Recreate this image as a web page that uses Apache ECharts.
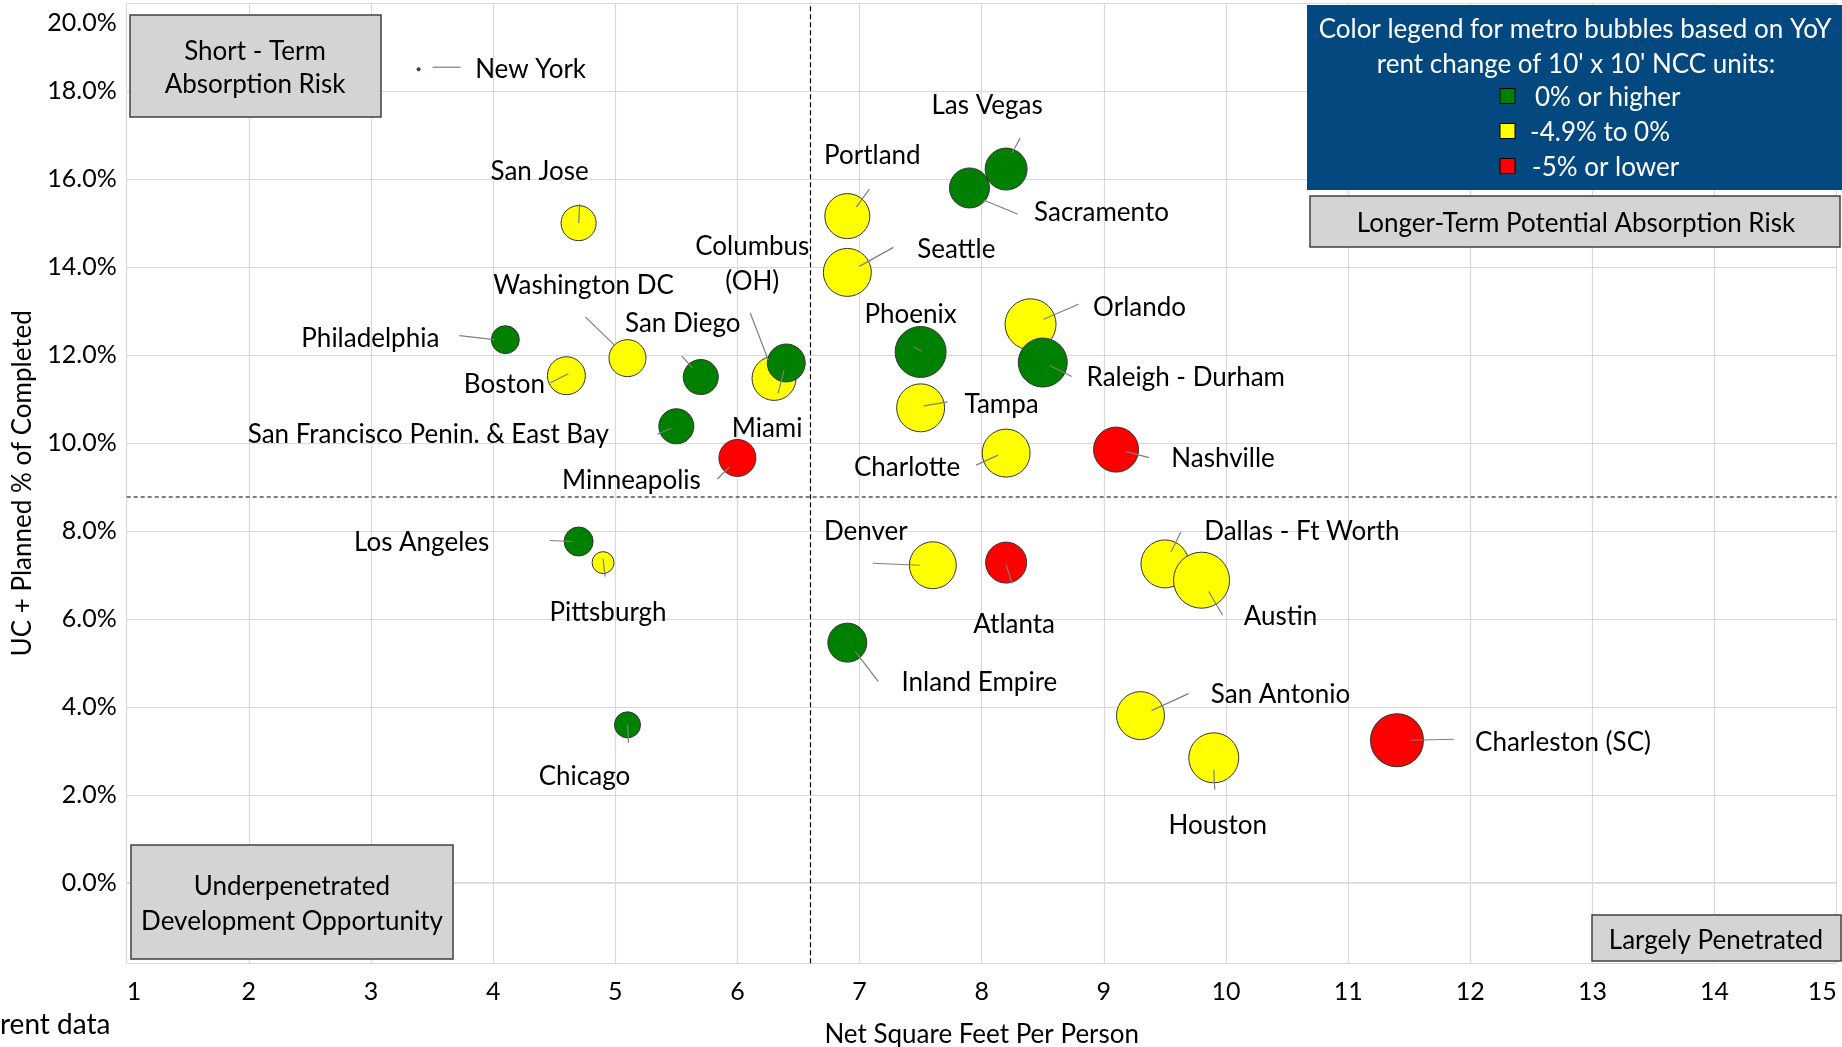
<!DOCTYPE html>
<html>
<head>
<meta charset="utf-8">
<script src="https://cdn.jsdelivr.net/npm/echarts@6/dist/echarts.min.js"></script>
<style>
  html, body { margin: 0; padding: 0; background: #fff; }
  #chart { width: 1842px; height: 1047px; }
</style>
</head>
<body>
<div id="chart"></div>
<script>
// metro data, in draw order (later items sit on top)
const metros = [
  'New York', 'San Jose', 'Philadelphia', 'Boston', 'Washington DC', 'San Diego',
  'Miami', 'Columbus\n(OH)', 'San Francisco Penin. & East Bay', 'Minneapolis',
  'Portland', 'Seattle', 'Las Vegas', 'Sacramento', 'Phoenix', 'Orlando',
  'Raleigh - Durham', 'Tampa', 'Charlotte', 'Nashville', 'Los Angeles', 'Pittsburgh',
  'Chicago', 'Denver', 'Atlanta', 'Inland Empire', 'Dallas - Ft Worth', 'Austin',
  'San Antonio', 'Houston', 'Charleston (SC)'
];
const netSqFtPerPerson = [
  3.39, 4.7, 4.1, 4.6, 5.1, 5.7,
  6.3, 6.4, 5.5, 6.0,
  6.9, 6.9, 8.2, 7.9, 7.5, 8.4,
  8.5, 7.5, 8.2, 9.1, 4.7, 4.9,
  5.1, 7.6, 8.2, 6.9, 9.5, 9.8,
  9.3, 9.9, 11.4
];
const ucPlannedPct = [
  18.5, 15.0, 12.35, 11.53, 11.93, 11.5,
  11.47, 11.82, 10.38, 9.66,
  15.16, 13.88, 16.23, 15.8, 12.07, 12.7,
  11.83, 10.8, 9.77, 9.85, 7.76, 7.28,
  3.59, 7.22, 7.28, 5.46, 7.25, 6.88,
  3.8, 2.84, 3.24
];
// bubble magnitude (relative)
const bubbleValue = [
  0.1, 12.3, 7.8, 14.4, 13.7, 12.3,
  19.4, 14.4, 12.3, 13.7,
  20.3, 23, 17.6, 16, 26, 26,
  24, 23, 23, 20.3, 8.4, 4.8,
  6.8, 22, 16.8, 15.2, 23, 31.4,
  23, 25, 28
];
// index into rentBands
const rentBand = [
  0, 1, 0, 1, 1, 0,
  1, 0, 0, 2,
  1, 1, 0, 0, 0, 1,
  0, 1, 1, 2, 0, 1,
  0, 1, 2, 0, 1, 1,
  1, 1, 2
];
const rentBands = ['0% or higher', '-4.9% to 0%', '-5% or lower'];
const yTicks = ['0.0%', '2.0%', '4.0%', '6.0%', '8.0%', '10.0%', '12.0%', '14.0%', '16.0%', '18.0%', '20.0%'];

const quadrantX = 6.6;
const quadrantY = 8.77;

// styles
const bandColors = ['#008000', '#ffff00', '#ff0000'];
const FONT = 'Lato';
const INK = '#000';
const TEXT_DY = 2; // Lato sits a touch high vs the original font
// label centre offset from bubble centre, px
const labelOffsets = [
  [112, -2], [-39, -54], [-135, -3], [-62, 7], [-44, -75], [-18, -55],
  [-7, 48], [-34, -101], [-248, 6], [-106, 21],
  [25, -63], [109, -25], [-19, -65], [132, 23], [-10, -39], [109, -19],
  [143, 13], [81, -5], [-99, 12], [107, 7], [-157, -1], [5, 48],
  [-43, 50], [-67, -36], [8, 60], [132, 38], [137, -34], [79, 34],
  [140, -23], [4, 66], [166, 0]
];
// leader line segment relative to bubble centre: [x1, y1, x2, y2]
const leaderLines = [
  [14, -2, 42, -2], [0, 0, 1, -19], [-46, -4, -11, 0], [-16, 7, 2, -2], [-42, -41, -13, -13], [-19, -21, -8, -9],
  [4, 15, 10, -8], [-36, -50, -18, -3], [-19, 8, -5, 2], [-20, 21, -8, 9],
  [22, -27, 9, -9], [46, -25, 12, -6], [14, -31, 6, -16], [14, 12, 48, 26], [-7, -5, 1, -1], [13, -5, 48, -20],
  [7, 3, 29, 14], [3, -2, 27, -6], [-30, 12, -8, 2], [10, 2, 33, 8], [-29, -1, -6, 0], [0, -4, 2, 14],
  [0, 0, 1, 18], [-60, -2, -13, 0], [0, 2, 6, 21], [8, 9, 31, 39], [6, -12, 16, -32], [7, 11, 21, 35],
  [11, -5, 48, -22], [0, 12, 1, 32], [14, 0, 57, -1]
];

const chart = echarts.init(document.getElementById('chart'));

const points = metros.map((name, i) => ({
  name: name,
  value: [netSqFtPerPerson[i], ucPlannedPct[i], bubbleValue[i]],
  itemStyle: { color: bandColors[rentBand[i]] },
  label: { offset: [labelOffsets[i][0], labelOffsets[i][1] + TEXT_DY] }
}));

const boxStyle = { fill: '#d4d4d4', stroke: '#404040', lineWidth: 1.5 };
const boxText = { fill: INK, font: '26px ' + FONT, align: 'center', verticalAlign: 'middle' };

function txt(x, y, style) {
  return { type: 'text', x: x, y: y + TEXT_DY, style: style, z: 11 };
}

const graphics = [
  { type: 'rect', shape: { x: 130, y: 15, width: 251, height: 102 }, style: boxStyle, z: 10 },
  txt(255, 50, Object.assign({ text: 'Short - Term' }, boxText)),
  txt(255, 83, Object.assign({ text: 'Absorption Risk' }, boxText)),
  { type: 'rect', shape: { x: 1310, y: 196, width: 530, height: 51 }, style: boxStyle, z: 10 },
  txt(1576, 222, Object.assign({ text: 'Longer-Term Potential Absorption Risk' }, boxText)),
  { type: 'rect', shape: { x: 131, y: 845, width: 322, height: 114 }, style: boxStyle, z: 10 },
  txt(292, 885, Object.assign({ text: 'Underpenetrated' }, boxText)),
  txt(292, 920, Object.assign({ text: 'Development Opportunity' }, boxText)),
  { type: 'rect', shape: { x: 1592, y: 915, width: 249, height: 46 }, style: boxStyle, z: 10 },
  txt(1716, 939, Object.assign({ text: 'Largely Penetrated' }, boxText)),
  // colour legend box
  { type: 'rect', shape: { x: 1307, y: 5, width: 535, height: 185 }, style: { fill: '#03487f' }, z: 10 },
  txt(1575, 28, Object.assign({}, boxText, { text: 'Color legend for metro bubbles based on YoY', fill: '#fff' })),
  txt(1576, 63, Object.assign({}, boxText, { text: "rent change of 10' x 10' NCC units:", fill: '#fff' })),
  txt(0, 1023, { text: 'rent data', fill: INK, font: '28px ' + FONT, align: 'left', verticalAlign: 'middle' })
];
const legendRowY = [96, 131, 166];
const legendTextX = [1535, 1530, 1532];
rentBands.forEach((band, i) => {
  graphics.push({ type: 'rect', shape: { x: 1500, y: legendRowY[i] - 7.5, width: 15, height: 15 },
    style: { fill: bandColors[i], stroke: '#000', lineWidth: 1 }, z: 11 });
  graphics.push(txt(legendTextX[i], legendRowY[i],
    { text: band, fill: '#fff', font: '26px ' + FONT, align: 'left', verticalAlign: 'middle' }));
});

const option = {
  animation: false,
  textStyle: { fontFamily: FONT },
  grid: { left: 126.7, right: 5.3, top: 3.3, bottom: 83.7, outerBoundsMode: 'none' },
  xAxis: {
    type: 'value',
    min: 1,
    max: 15,
    interval: 1,
    name: 'Net Square Feet Per Person',
    nameLocation: 'middle',
    nameGap: 58,
    nameTextStyle: { fontSize: 26, color: INK, fontFamily: FONT },
    axisLine: { show: true, lineStyle: { color: '#d9d9d9', width: 1.5 } },
    axisTick: { show: false },
    axisLabel: { fontSize: 25, color: INK, fontFamily: FONT, margin: 16, alignMinLabel: 'left', alignMaxLabel: 'right' },
    splitLine: { show: true, lineStyle: { color: '#d9d9d9', width: 1.2 } }
  },
  yAxis: {
    type: 'value',
    min: -1.833,
    max: 20,
    minInterval: 2,
    maxInterval: 2,
    name: 'UC + Planned % of Completed',
    nameLocation: 'middle',
    nameGap: 91,
    nameTextStyle: { fontSize: 26, color: INK, fontFamily: FONT },
    axisLine: { show: false },
    axisTick: { show: false },
    axisLabel: {
      fontSize: 25, color: INK, fontFamily: FONT, margin: 10,
      formatter: function (v) {
        const k = Math.round(v / 2);
        if (Math.abs(v / 2 - k) > 1e-6 || k < 0 || k >= yTicks.length) return '';
        if (k === yTicks.length - 1) return '{top|' + yTicks[k] + '}';
        return yTicks[k];
      },
      rich: { top: { fontSize: 25, fontFamily: FONT, color: INK, padding: [40, 0, 0, 0] } }
    },
    splitLine: { show: true, lineStyle: { color: '#d9d9d9', width: 1.2 } }
  },
  graphic: graphics,
  series: [
    {
      type: 'scatter',
      data: points,
      symbolSize: function (val) { return 10 * Math.sqrt(val[2]); },
      itemStyle: { borderColor: '#333', borderWidth: 1, opacity: 1 },
      label: {
        show: true,
        position: 'inside',
        formatter: '{b}',
        color: INK,
        fontSize: 26,
        fontFamily: FONT,
        lineHeight: 35,
        align: 'center',
        verticalAlign: 'middle'
      },
      emphasis: { disabled: true },
      markLine: {
        silent: true,
        symbol: 'none',
        label: { show: false },
        data: [
          { xAxis: quadrantX, lineStyle: { color: '#000', type: [5, 3], width: 1.2 } },
          { yAxis: quadrantY, lineStyle: { color: '#555', type: [4, 3], width: 1.5 } }
        ]
      },
      z: 2
    },
    {
      type: 'custom',
      silent: true,
      data: metros.map((m, i) => [netSqFtPerPerson[i], ucPlannedPct[i]]),
      renderItem: function (params, api) {
        const c = api.coord([api.value(0), api.value(1)]);
        const s = leaderLines[params.dataIndex];
        return {
          type: 'line',
          shape: { x1: c[0] + s[0], y1: c[1] + s[1], x2: c[0] + s[2], y2: c[1] + s[3] },
          style: { stroke: '#7f7f7f', lineWidth: 1.2 }
        };
      },
      z: 5
    }
  ]
};

chart.setOption(option);
</script>
</body>
</html>
